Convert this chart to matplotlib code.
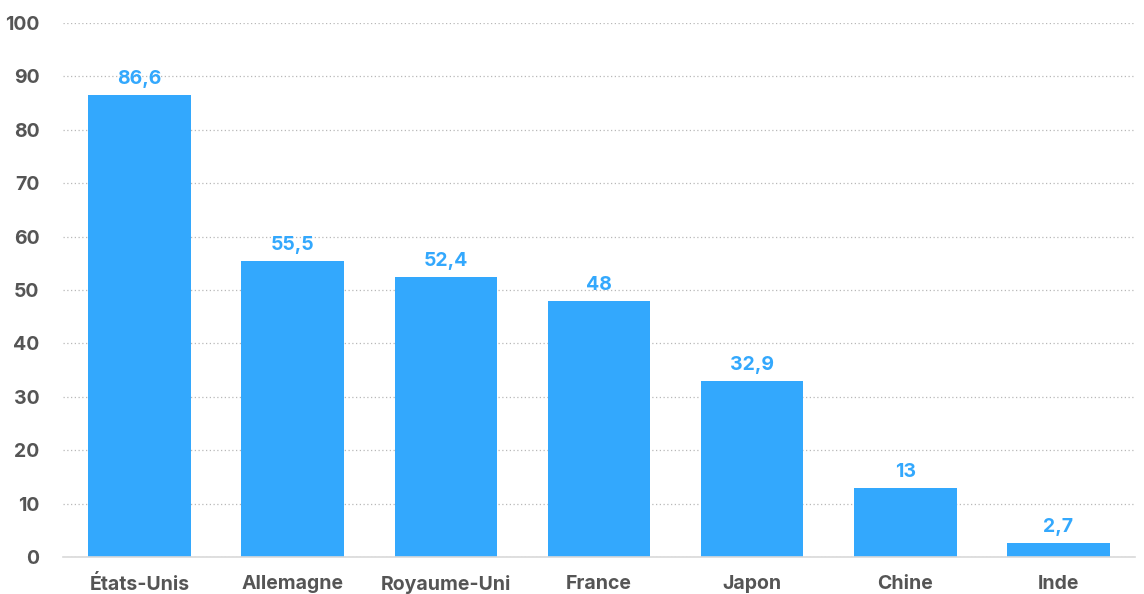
import matplotlib
matplotlib.use('Agg')
import matplotlib.pyplot as plt

countries = ['États-Unis', 'Allemagne', 'Royaume-Uni', 'France', 'Japon', 'Chine', 'Inde']
values = [86.6, 55.5, 52.4, 48, 32.9, 13, 2.7]
yticks = [0, 10, 20, 30, 40, 50, 60, 70, 80, 90, 100]

blue = '#33a8fd'
grey = '#555555'

plt.rcParams['font.family'] = ['Inter', 'DejaVu Sans']

fig = plt.figure(figsize=(11.44, 5.94), dpi=100)
ax = fig.add_axes([0.0551, 0.0623, 0.937, 0.899])

x = range(len(countries))
bars = ax.bar(x, values, width=0.67, color=blue, zorder=2)

def fmt(v):
    s = f'{v:g}'
    return s.replace('.', ',')

for xi, v in zip(x, values):
    ax.annotate(fmt(v), (xi, v), xytext=(0, 5), textcoords='offset points',
                ha='center', va='bottom', color=blue, fontsize=14, fontweight='bold')

ax.set_xlim(-0.5, len(countries) - 0.5)
ax.set_ylim(0, 100)
ax.set_yticks(yticks)
ax.set_xticks(list(x))
ax.set_xticklabels(countries)
ax.tick_params(axis='both', length=0, labelsize=14, labelcolor=grey)
ax.tick_params(axis='y', pad=17)
ax.tick_params(axis='x', pad=13)
for lab in ax.get_xticklabels() + ax.get_yticklabels():
    lab.set_fontweight('bold')

ax.grid(axis='y', color='#b8b8b8', linestyle=(0, (1, 2)), linewidth=0.9, zorder=0)
for s in ['top', 'right', 'left']:
    ax.spines[s].set_visible(False)
ax.spines['bottom'].set_color('#d9d9d9')
ax.spines['bottom'].set_linewidth(1.2)

fig.savefig('out.png', dpi=100)
